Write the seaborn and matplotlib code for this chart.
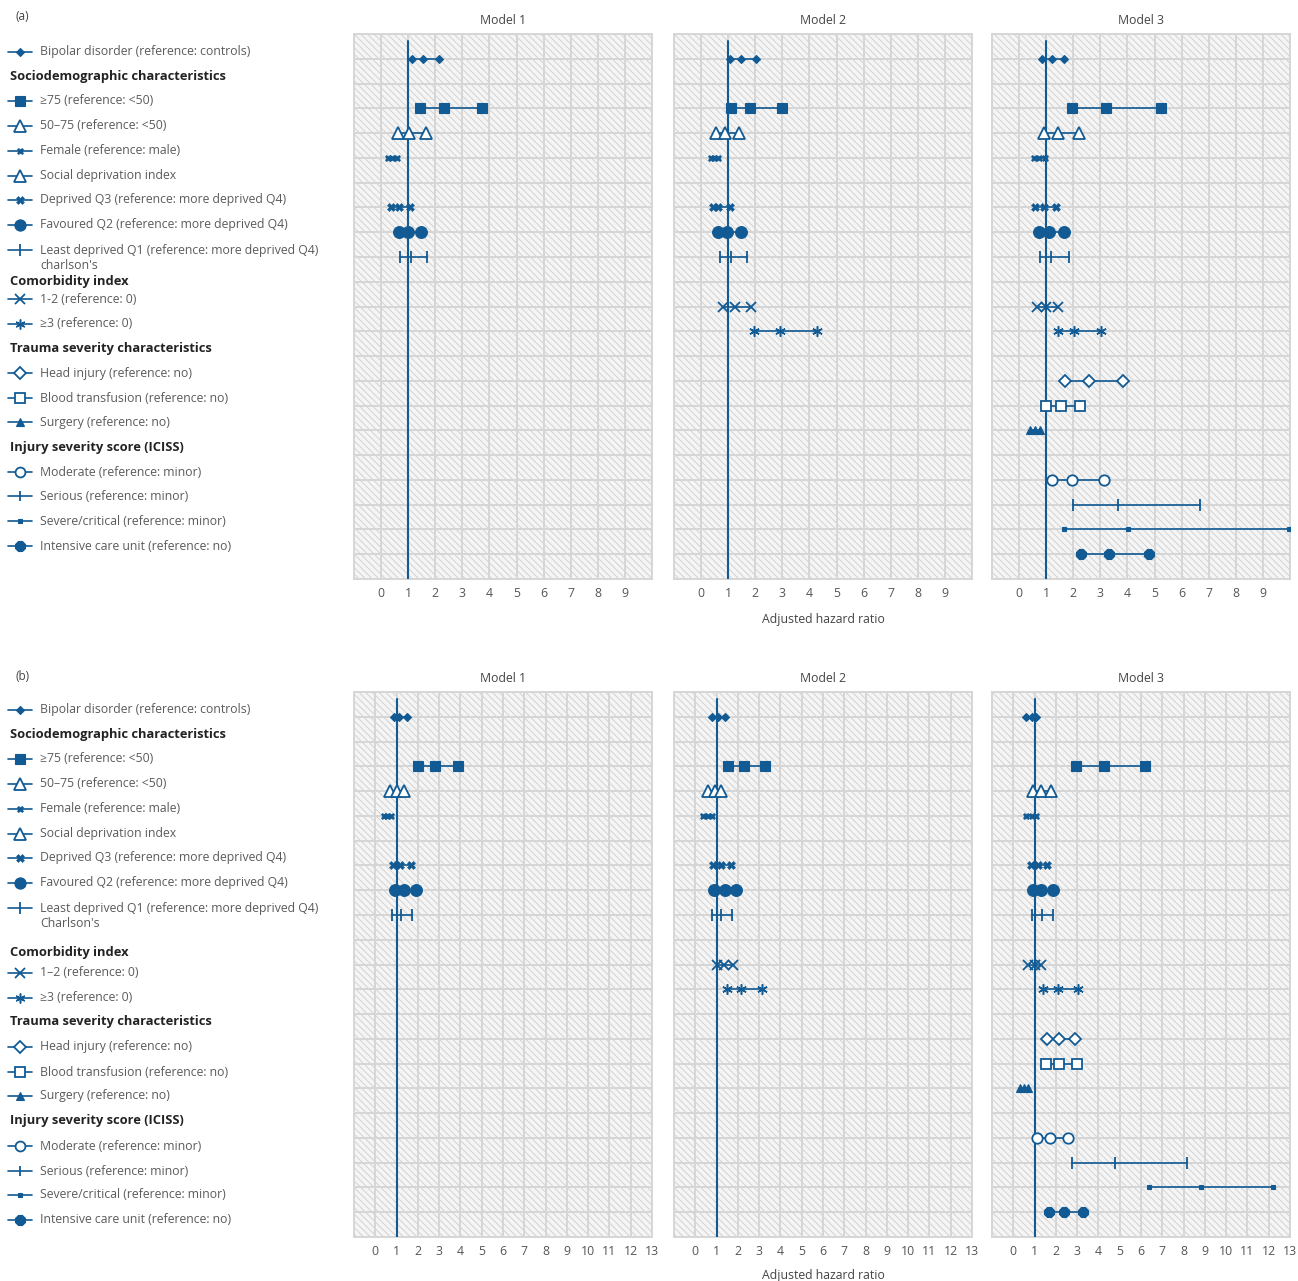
import numpy as np
import pandas as pd
import matplotlib
matplotlib.use("Agg")
import matplotlib.pyplot as plt
import seaborn as sns
from matplotlib.patches import Rectangle

sns.set_theme(style="white")
plt.rcParams["font.family"] = ["Open Sans", "DejaVu Sans"]
plt.rcParams["hatch.color"] = "#d3d3d3"
plt.rcParams["hatch.linewidth"] = 0.7

BLUE = "#115a93"
W, H = 1298, 1281

# ---------------- data ----------------
variables = ["bipolar", "age75", "age5075", "female", "q3", "q2", "q1",
             "com12", "com3", "head", "blood", "surgery",
             "moderate", "serious", "severe", "icu"]
# row layout of the forest plot (None = header / empty row)
row_order = ["bipolar", None, "age75", "age5075", "female", "sdi", "q3", "q2", "q1",
             None, "com12", "com3", None, "head", "blood", "surgery", None,
             "moderate", "serious", "severe", "icu"]
models = ["Model 1", "Model 2", "Model 3"]

# panel (a)
a_m1_lo = [1.14, 1.44, 0.64, 0.27, 0.38, 0.66, 0.69]
a_m1_hr = [1.54, 2.33, 1.04, 0.42, 0.67, 0.99, 1.10]
a_m1_hi = [2.12, 3.74, 1.64, 0.57, 1.07, 1.46, 1.68]
a_m2_lo = [1.07, 1.11, 0.56, 0.35, 0.43, 0.63, 0.70, 0.80, 1.97]
a_m2_hr = [1.48, 1.80, 0.89, 0.49, 0.62, 0.95, 1.12, 1.26, 2.90]
a_m2_hi = [2.04, 2.97, 1.41, 0.64, 1.07, 1.47, 1.69, 1.85, 4.27]
a_m3_lo = [0.86, 1.97, 0.91, 0.56, 0.60, 0.75, 0.79, 0.65, 1.42, 1.69, 1.01, 0.39, 1.20, 2.00, 1.67, 2.27]
a_m3_hr = [1.20, 3.20, 1.43, 0.75, 0.91, 1.11, 1.18, 0.99, 2.04, 2.57, 1.53, 0.60, 1.96, 3.64, 4.03, 3.31]
a_m3_hi = [1.67, 5.22, 2.21, 0.94, 1.38, 1.67, 1.83, 1.43, 3.02, 3.85, 2.26, 0.79, 3.15, 6.68, 9.98, 4.79]

# panel (b)
b_m1_lo = [0.87, 1.99, 0.69, 0.42, 0.84, 0.91, 0.79]
b_m1_hr = [1.11, 2.81, 1.03, 0.56, 1.14, 1.34, 1.22]
b_m1_hi = [1.48, 3.89, 1.34, 0.72, 1.70, 1.89, 1.73]
b_m2_lo = [0.77, 1.56, 0.60, 0.37, 0.84, 0.87, 0.79, 1.03, 1.48]
b_m2_hr = [1.06, 2.30, 0.92, 0.59, 1.19, 1.38, 1.19, 1.34, 2.14]
b_m2_hi = [1.39, 3.28, 1.22, 0.79, 1.70, 1.91, 1.73, 1.77, 3.13]
b_m3_lo = [0.59, 2.96, 0.94, 0.61, 0.81, 0.93, 0.86, 0.70, 1.38, 1.59, 1.52, 0.31, 1.12, 2.75, 6.38, 1.70]
b_m3_hr = [0.86, 4.26, 1.28, 0.86, 1.16, 1.31, 1.33, 1.00, 2.09, 2.13, 2.14, 0.50, 1.72, 4.77, 8.80, 2.39]
b_m3_hi = [1.08, 6.18, 1.77, 1.09, 1.59, 1.86, 1.87, 1.28, 3.03, 2.89, 2.97, 0.70, 2.56, 8.17, 12.20, 3.28]

panel_data = {
    "a": [(a_m1_lo, a_m1_hr, a_m1_hi), (a_m2_lo, a_m2_hr, a_m2_hi), (a_m3_lo, a_m3_hr, a_m3_hi)],
    "b": [(b_m1_lo, b_m1_hr, b_m1_hi), (b_m2_lo, b_m2_hr, b_m2_hi), (b_m3_lo, b_m3_hr, b_m3_hi)],
}

xticks_a = list(range(0, 10))
xticks_b = list(range(0, 14))

labels_a = ["Bipolar disorder (reference: controls)", "Sociodemographic characteristics",
            "≥75 (reference: <50)", "50–75 (reference: <50)", "Female (reference: male)",
            "Social deprivation index", "Deprived Q3 (reference: more deprived Q4)",
            "Favoured Q2 (reference: more deprived Q4)",
            "Least deprived Q1 (reference: more deprived Q4)", "charlson's",
            "Comorbidity index", "1-2 (reference: 0)", "≥3 (reference: 0)",
            "Trauma severity characteristics", "Head injury (reference: no)",
            "Blood transfusion (reference: no)", "Surgery (reference: no)",
            "Injury severity score (ICISS)", "Moderate (reference: minor)",
            "Serious (reference: minor)", "Severe/critical (reference: minor)",
            "Intensive care unit (reference: no)"]
labels_b = list(labels_a)
labels_b[9] = "Charlson's"
labels_b[11] = "1–2 (reference: 0)"
legend_keys = ["bipolar", "H", "age75", "age5075", "female", "sdi", "q3", "q2", "q1", "N",
               "H", "com12", "com3", "H", "head", "blood", "surgery", "H",
               "moderate", "serious", "severe", "icu"]

# ---------------- build long table ----------------
recs = []
for panel, mlist in panel_data.items():
    for mi, (lo, hr, hi) in enumerate(mlist):
        for i in range(len(hr)):
            var = variables[i]
            r = row_order.index(var)
            for stat, v in zip(["lo", "hr", "hi"], [lo[i], hr[i], hi[i]]):
                recs.append(dict(panel=panel, model=models[mi], var=var, row=r, stat=stat, value=v))
df = pd.DataFrame(recs)

# ---------------- styles ----------------
styles = {
    "bipolar": dict(marker="D", ms=4.2, mfc=BLUE, mew=0.8),
    "age75": dict(marker="s", ms=7, mfc=BLUE, mew=0.8),
    "age5075": dict(marker="^", ms=8.5, mfc="white", mew=1.3),
    "female": dict(marker="X", ms=5, mfc=BLUE, mew=0.4),
    "sdi": dict(marker="^", ms=8.5, mfc="white", mew=1.3),
    "q3": dict(marker="X", ms=6, mfc=BLUE, mew=0.4),
    "q2": dict(marker="o", ms=8.5, mfc=BLUE, mew=0.8),
    "q1": dict(marker="|", ms=9, mfc=BLUE, mew=1.3),
    "com12": dict(marker="x", ms=7, mfc=BLUE, mew=1.3),
    "com3": dict(marker=(6, 2, 0), ms=7.5, mfc=BLUE, mew=1.1),
    "head": dict(marker="D", ms=6.5, mfc="white", mew=1.3),
    "blood": dict(marker="s", ms=7, mfc="white", mew=1.3),
    "surgery": dict(marker="^", ms=5.5, mfc=BLUE, mew=0.8),
    "moderate": dict(marker="o", ms=7.5, mfc="white", mew=1.3),
    "serious": dict(marker="|", ms=8, mfc=BLUE, mew=1.3),
    "severe": dict(marker="s", ms=3.5, mfc=BLUE, mew=0.8),
    "icu": dict(marker="8", ms=7.5, mfc=BLUE, mew=0.8),
}

# ---------------- layout ----------------
fig = plt.figure(figsize=(W / 100, H / 100), dpi=100)
fig.patch.set_facecolor("white")

def fx(px):
    return px / W

def fy(py):
    return 1 - py / H

ax_x = [(354, 652), (674, 972), (992, 1290)]
panels = {"a": dict(top=34, bot=579, xlim=(-1, 10), ticks=xticks_a, labels=labels_a,
                    leg_y=[-0.28, 0.73, 1.7, 2.7, 3.72, 4.73, 5.7, 6.7, 7.72, 8.36, 9.0, 9.7,
                           10.7, 11.68, 12.69, 13.7, 14.67, 15.68, 16.69, 17.66, 18.67, 19.68],
                    tag_y=17, title_y=20, xlabel_y=619),
          "b": dict(top=692, bot=1237, xlim=(-1, 13), ticks=xticks_b, labels=labels_b,
                    leg_y=[-0.28, 0.73, 1.7, 2.7, 3.72, 4.73, 5.7, 6.7, 7.72, 8.36, 9.5, 10.34,
                           11.35, 12.3, 13.33, 14.35, 15.3, 16.3, 17.33, 18.35, 19.3, 20.3],
                    tag_y=676, title_y=679, xlabel_y=1276)}

TXT = "#5b5b5b"
FS = 8.8
FSB = 9.3

for pkey, P in panels.items():
    top, bot = P["top"], P["bot"]
    for mi, (x0, x1) in enumerate(ax_x):
        ax = fig.add_axes([fx(x0), fy(bot), fx(x1 - x0), (bot - top) / H])
        ax.add_patch(Rectangle((0, 0), 1, 1, transform=ax.transAxes, facecolor="#f5f5f5",
                               edgecolor="#d2d2d2", linewidth=0, hatch="\\\\\\\\\\", zorder=-5))
        sub = df[(df.panel == pkey) & (df.model == models[mi])]
        for var in variables:
            s = sub[sub["var"] == var]
            if s.empty:
                continue
            st = styles[var]
            sns.lineplot(data=s, x="value", y="row", ax=ax, estimator=None, sort=True,
                         legend=False, color=BLUE, linewidth=1.2, marker=st["marker"],
                         markersize=st["ms"], markerfacecolor=st["mfc"],
                         markeredgecolor=BLUE, markeredgewidth=st["mew"], zorder=4)
        ax.axvline(1, ymin=0, ymax=(21 + 0.7) / 22, color=BLUE, lw=1.5, zorder=3)
        ax.set_xlim(*P["xlim"])
        ax.set_ylim(21, -1)
        ax.set_xticks(P["ticks"])
        ax.set_yticks(range(0, 21))
        ax.set_yticklabels([])
        ax.tick_params(axis="both", length=0, pad=5.5, labelsize=8.8, colors="#555555")
        ax.grid(True, color="#d6d6d6", lw=1.4)
        ax.set_axisbelow(True)
        ax.set_xlabel("")
        ax.set_ylabel("")
        for sp in ax.spines.values():
            sp.set_color("#d6d6d6")
            sp.set_linewidth(1.4)
        fig.text(fx((x0 + x1) / 2), fy(P["title_y"]), models[mi], ha="center", va="center",
                 fontsize=8.8, color="#444444")
    fig.text(fx(15), fy(P["tag_y"]), f"({pkey})", ha="left", va="center", fontsize=8.5,
             color="#444444")
    fig.text(fx(823), fy(P["xlabel_y"]), "Adjusted hazard ratio", ha="center", va="center",
             fontsize=8.8, color="#444444")

    # legend axes
    lax = fig.add_axes([0, fy(bot), fx(354), (bot - top) / H])
    lax.set_xlim(0, 354)
    lax.set_ylim(21, -1)
    lax.axis("off")
    for lab, key, yy in zip(P["labels"], legend_keys, P["leg_y"]):
        if key == "H":
            lax.text(10, yy, lab, ha="left", va="center", fontsize=FSB,
                     fontweight="bold", color="#222222", clip_on=False)
        elif key == "N":
            lax.text(40, yy, lab, ha="left", va="center", fontsize=FS, color=TXT, clip_on=False)
        else:
            st = styles[key]
            lax.plot([8, 20, 32], [yy, yy, yy], color=BLUE, lw=1.2, marker=st["marker"],
                     markevery=[1], markersize=st["ms"] * 0.95, markerfacecolor=st["mfc"],
                     markeredgecolor=BLUE, markeredgewidth=st["mew"], clip_on=False)
            lax.text(40, yy, lab, ha="left", va="center", fontsize=FS, color=TXT, clip_on=False)

fig.savefig("out.png", dpi=100, facecolor="white")
